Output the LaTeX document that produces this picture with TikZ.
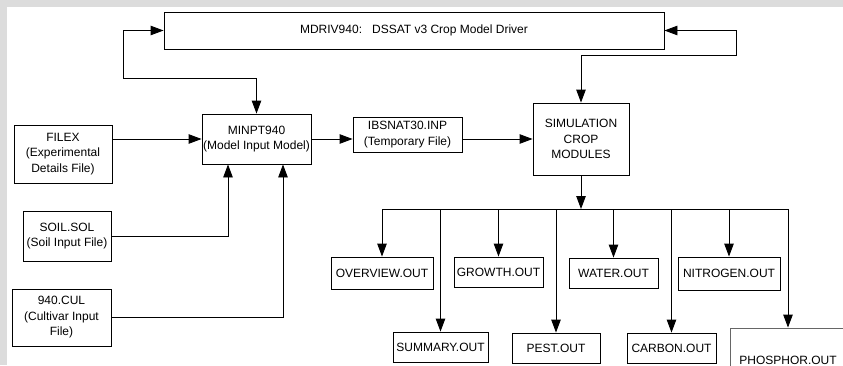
\documentclass[tikz,border=0pt]{standalone}
\usepackage{fontspec}
\setmainfont{Liberation Sans}
\usetikzlibrary{arrows.meta}
\definecolor{framegray}{RGB}{220,220,220}
\begin{document}
\begin{tikzpicture}[
x=1pt, y=-1pt,
line width=0.9pt,
>={Triangle[length=13pt,width=9.5pt]},
every node/.style={draw, rectangle, align=center, inner sep=0pt, font=\fontsize{12}{15.5}\selectfont},
outbox/.style={minimum width=#1, minimum height=30pt}
]
\useasboundingbox (0,0) rectangle (843,365);
\clip (0,0) rectangle (843,365);
\fill[framegray] (0,0) rectangle (843,365);
\fill[white] (7,7) rectangle (843,365);

% inputs and driver
\node (driver) [minimum width=500pt, minimum height=37pt] at (414,30.5) {MDRIV940:\hspace{10pt}DSSAT v3 Crop Model Driver};
\node (minpt) [minimum width=109pt, minimum height=50pt] at (256.5,139) {MINPT940\\(Model Input Model)};
\node (filex) [minimum width=98pt, minimum height=58pt] at (63,154) {FILEX\\(Experimental\\Details File)};
\node (soil) [minimum width=88pt, minimum height=50pt] at (67,236) {SOIL.SOL\\(Soil Input File)};
\node (cul) [minimum width=99pt, minimum height=57pt] at (61.5,317.5) {940.CUL\\(Cultivar Input\\File)};
\node (ibsnat) [minimum width=109pt, minimum height=35pt] at (407.5,134.5) {IBSNAT30.INP\\(Temporary File)};
\node (sim) [minimum width=96pt, minimum height=72pt] at (581,139) {SIMULATION\\CROP\\MODULES};

% output files
\node (overview) [outbox=102pt, minimum height=32pt] at (382,273) {OVERVIEW.OUT};
\node (summary) [outbox=95pt] at (440.5,347) {SUMMARY.OUT};
\node (growth) [outbox=89pt] at (498.5,272) {GROWTH.OUT};
\node (pest) [outbox=88pt] at (556,348) {PEST.OUT};
\node (water) [outbox=89pt] at (613.5,273) {WATER.OUT};
\node (carbon) [outbox=89pt] at (671.5,348) {CARBON.OUT};
\node (nitrogen) [outbox=102pt, minimum height=33pt] at (729,273.5) {NITROGEN.OUT};
\node (phosphor) [outbox=116pt, minimum height=64pt, draw=black!60] at (788,360) {};
\node (phosphortext) [draw=none] at (788,360) {PHOSPHOR.OUT};

\coordinate (lturn) at (123,78);
\coordinate (rturn) at (736,55);
\coordinate (bus) at (581,209);

\draw[<->] (minpt.north) |- (lturn) |- (driver.west);
\draw[<->] (sim.north) |- (rturn) |- (driver.east);
\draw[->] (filex.east |- minpt.west) -- (minpt.west);
\draw[->] (soil.east) -| ([xshift=-28.5pt]minpt.south);
\draw[->] (cul.east) -| ([xshift=26.5pt]minpt.south);
\draw[->] (minpt.east) -- (minpt.east -| ibsnat.west);
\draw[->] (ibsnat.east |- sim.west) -- (sim.west);
\draw[->] (sim.south) -- (bus);
\draw (overview.north |- bus) -- (phosphor.north |- bus);
\foreach \o in {overview,summary,growth,pest,water,carbon,nitrogen,phosphor}
  \draw[->] (\o.north |- bus) -- (\o.north);

\end{tikzpicture}
\end{document}
